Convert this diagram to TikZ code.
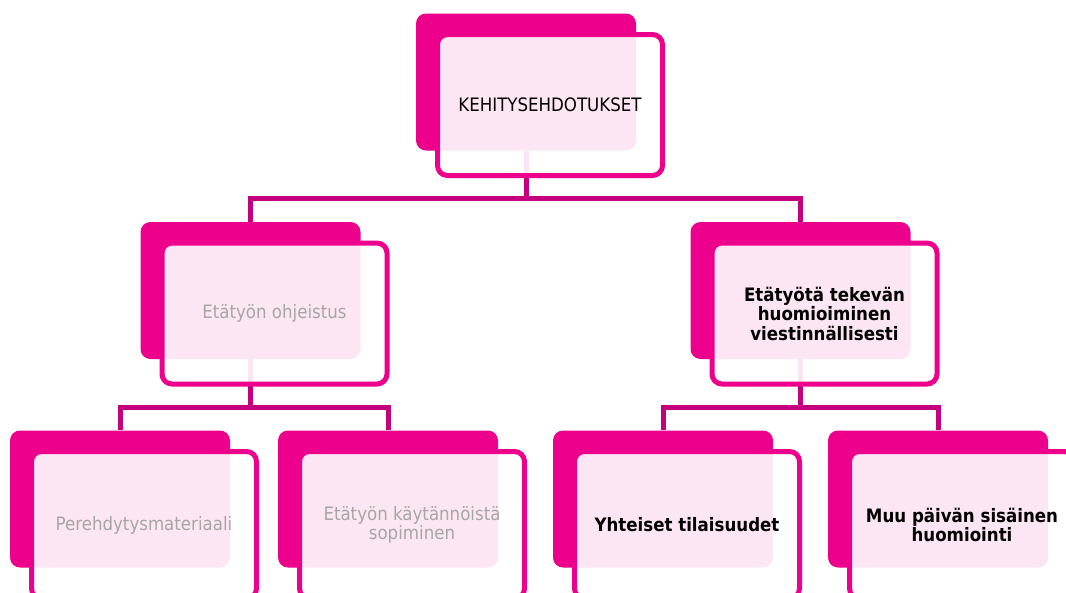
\documentclass[tikz,border=0pt]{standalone}
\usepackage{fontspec}
\setmainfont{DejaVu Sans Condensed}
\usepackage{xcolor}
\usetikzlibrary{positioning}

\definecolor{boxpink}{HTML}{EC008C}
\definecolor{linkpink}{HTML}{C4007E}
\definecolor{txtgray}{HTML}{A6A6A6}

\tikzset{
	backbox/.style={fill=boxpink, rounded corners=10pt, minimum width=220pt, minimum height=137pt, inner sep=0pt},
	frontbox/.style={draw=boxpink, line width=5pt, fill=white, fill opacity=0.9, text opacity=1,
		rounded corners=10pt, minimum width=225pt, minimum height=141pt, inner sep=0pt,
		align=center, font=\fontsize{18.5}{19.5}\selectfont},
	lowbox/.style={frontbox, minimum height=147pt},
	link/.style={draw=linkpink, line width=5pt},
	lead/.style={font=\fontsize{18.5}{19.5}\selectfont\bfseries},
}

\begin{document}
\begin{tikzpicture}[x=1pt,y=-1pt]

	\useasboundingbox (0,0) rectangle (1066,592);

	% back boxes
	\node[backbox] (kehit) at (526,82) {};
	\node[backbox] (ohje) at (250.5,290.5) {};
	\node[backbox] (viest) at (800.5,290.5) {};
	\node[backbox] (pereh) at (120,499) {};
	\node[backbox] (sopim) at (388,499) {};
	\node[backbox] (tilai) at (663,499) {};
	\node[backbox] (muupv) at (938,499) {};

	% connectors
	\draw[link] (kehit.south) -- ++(0,48) -| (ohje.north);
	\draw[link] (kehit.south) -- ++(0,48) -| (viest.north);
	\draw[link] (ohje.south) -- ++(0,48) -| (pereh.north);
	\draw[link] (ohje.south) -- ++(0,48) -| (sopim.north);
	\draw[link] (viest.south) -- ++(0,48) -| (tilai.north);
	\draw[link] (viest.south) -- ++(0,48) -| (muupv.north);

	% front boxes with text
	\node[frontbox] (kehit-f) at ([shift={(24,23)}]kehit.center) {KEHITYSEHDOTUKSET};
	\node[frontbox, text=txtgray] (ohje-f) at ([shift={(24,23)}]ohje.center) {Etätyön ohjeistus};
	\node[frontbox, lead] (viest-f) at ([shift={(24,23)}]viest.center) {Etätyötä tekevän\\huomioiminen\\viestinnällisesti};
	\node[lowbox, text=txtgray] (pereh-f) at ([shift={(24,26)}]pereh.center) {Perehdytysmateriaali};
	\node[lowbox, text=txtgray] (sopim-f) at ([shift={(24,26)}]sopim.center) {Etätyön käytännöistä\\sopiminen};
	\node[lowbox, lead] (tilai-f) at ([shift={(24,26)}]tilai.center) {Yhteiset tilaisuudet};
	\node[lowbox, lead] (muupv-f) at ([shift={(24,26)}]muupv.center) {Muu päivän sisäinen\\huomiointi};

\end{tikzpicture}
\end{document}
